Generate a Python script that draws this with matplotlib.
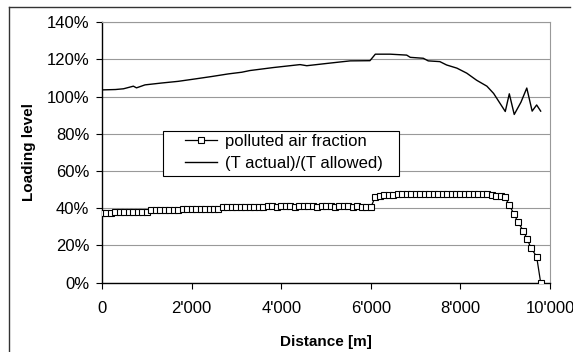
"""
Loading level along the tunnel: polluted air fraction and temperature ratio
"""

import matplotlib
matplotlib.use('Agg')
import matplotlib.pyplot as plt
from matplotlib.lines import Line2D
from matplotlib.patches import Rectangle

plt.rcParams['font.family'] = ['Liberation Sans', 'DejaVu Sans']

# polluted air fraction [%] (markers every ~100 m, then the drop at the end)
dist_air = list(range(0, 9000, 100)) + [9000, 9090, 9200, 9280, 9400, 9490, 9570, 9700, 9790]
air_fraction = (
    [37.5, 37.5, 37.5]                          # 0 - 200
    + [38.0] * 8                                 # 300 - 1000
    + [39.0] * 7                                 # 1100 - 1700
    + [39.8] * 9                                 # 1800 - 2600
    + [40.5] * 10                                # 2700 - 3600
    + [41.0, 41.2, 40.8, 41.0, 41.2, 41.0, 40.8, 41.2, 41.0, 41.0,
       41.2, 40.8, 41.0, 41.2, 41.0, 40.8, 41.0, 41.2, 41.0, 40.8,
       41.0, 40.6, 40.5, 40.5]                   # 3700 - 6000
    + [46.2, 46.8, 47.0, 47.2, 47.2]             # 6100 - 6500
    + [47.5] * 21                                # 6600 - 8600
    + [47.2, 46.8, 46.5]                         # 8700 - 8900
    + [45.8, 41.5, 36.8, 32.6, 28.0, 23.4, 18.8, 14.0, 0.0]
)

# (T actual)/(T allowed) [%]
dist_temp = [0, 300, 480, 700, 770, 960, 1330, 1700, 2080, 2450, 2820, 3120,
             3300, 3820, 4420, 4570, 5010, 5310, 5540, 5980, 6100, 6430, 6800,
             6880, 7170, 7280, 7540, 7690, 7920, 8140, 8360, 8590, 8740, 9000,
             9090, 9200, 9350, 9480, 9600, 9700, 9790]
temp_ratio = [103.6, 103.8, 104.2, 105.6, 104.7, 106.3, 107.3, 108.2, 109.5,
              110.8, 112.2, 113.1, 114.0, 115.6, 117.2, 116.6, 117.8, 118.6,
              119.2, 119.3, 122.8, 122.8, 122.3, 121.1, 120.6, 119.2, 118.8,
              117.0, 115.3, 112.6, 108.8, 105.6, 101.7, 92.0, 101.5, 90.4,
              97.0, 104.6, 92.2, 95.5, 92.2]

x_ticks = [0, 2000, 4000, 6000, 8000, 10000]
x_tick_labels = ["0", "2'000", "4'000", "6'000", "8'000", "10'000"]
y_ticks = [0, 20, 40, 60, 80, 100, 120, 140]
y_tick_labels = [f"{v}%" for v in y_ticks]


def main() -> None:
    fig = plt.figure(figsize=(5.73, 3.52), dpi=100)
    ax = fig.add_axes([0.178, 0.197, 0.782, 0.740])

    ax.plot(dist_air, air_fraction, color='black', linewidth=0.9,
            marker='s', markersize=4, markerfacecolor='white',
            markeredgecolor='black', markeredgewidth=0.8,
            label='polluted air fraction', zorder=3)
    ax.plot(dist_temp, temp_ratio, color='black', linewidth=1.0,
            label='(T actual)/(T allowed)', zorder=3)

    ax.set_xlim(0, 10000)
    ax.set_ylim(0, 140)
    ax.set_xticks(x_ticks)
    ax.set_xticklabels(x_tick_labels)
    ax.set_yticks(y_ticks)
    ax.set_yticklabels(y_tick_labels)
    ax.tick_params(direction='out', length=4, width=0.8, labelsize=12,
                   color='black')
    ax.tick_params(axis='x', pad=9)
    ax.tick_params(axis='y', pad=5)

    # gridlines and gray border like the original spreadsheet chart
    ax.grid(axis='y', color='#999999', linewidth=0.8)
    ax.set_axisbelow(True)
    for side in ('top', 'right'):
        ax.spines[side].set_color('#999999')
        ax.spines[side].set_linewidth(0.8)
    for side in ('left', 'bottom'):
        ax.spines[side].set_color('black')
        ax.spines[side].set_linewidth(1.0)

    ax.set_xlabel('Distance [m]', fontsize=11, fontweight='bold', labelpad=14)
    ax.set_ylabel('Loading level', fontsize=11, fontweight='bold', labelpad=8)

    # legend box: wide padded frame drawn separately, entries placed inside
    ax.add_patch(Rectangle((0.136, 0.410), 0.527, 0.173, transform=ax.transAxes,
                           facecolor='white', edgecolor='black', linewidth=0.8,
                           zorder=4))
    leg = ax.legend(loc='upper left', bbox_to_anchor=(0.185, 0.570),
                    borderaxespad=0, borderpad=0, fontsize=12, frameon=False,
                    handlelength=1.9, labelspacing=0.42, handletextpad=0.5)
    leg.set_zorder(5)

    # outer chart frame (left and top edges are visible in the picture)
    fig.add_artist(Line2D([0.015, 0.015], [0.0, 0.98], color='#333333',
                          linewidth=1.0, transform=fig.transFigure))
    fig.add_artist(Line2D([0.015, 0.995], [0.98, 0.98], color='#333333',
                          linewidth=1.0, transform=fig.transFigure))

    fig.savefig('out.png', dpi=100)
    plt.close(fig)


if __name__ == "__main__":
    main()
